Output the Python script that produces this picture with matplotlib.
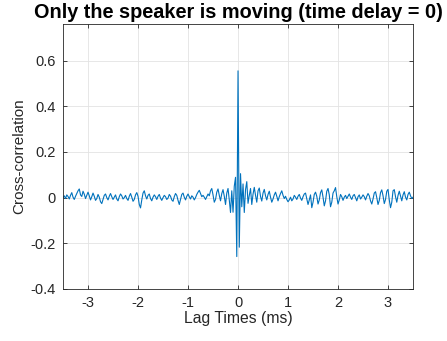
import numpy as np
import matplotlib
matplotlib.use("Agg")
import matplotlib.pyplot as plt

# cross-correlation values, in thousandths
lag_start = -3.5   # ms
lag_step = 0.025   # ms between samples
xcorr_milli = [
    0, 8, -4, 12, 5, -6, 10, 22, 2, -8, 6, 18, 30, 38, 12, 5, 28, 15, -4, 10,
    24, 8, -10, 4, 20, 6, -12, -4, 14, 2, -18, -26, -8, 10, 16, 0, -10, 6, 18, 4,
    -8, 2, 12, -6, -14, 4, 16, 8, -6, 0, 10, -4, -12, 6, 18, 2, -16, -8, 12, 22,
    6, -30, -45, -10, 20, 30, 8, -6, 10, 16, -4, -14, 2, 12, 4, -8, 6, 14, -2, -12,
    0, 10, 4, -8, -2, 14, 6, -10, -16, 4, 18, 10, -12, -30, -8, 14, 20, 2, -10, 6,
    16, 4, -6, 8, 2, -10, 0, 14, 24, 32, 18, 4, 10, 2, -8, 4, 16, 8, 30, 40,
    12, -20, -8, 24, 38, 10, -14, 18, 35, 6, -30, 20, 40, -10, -65, 30, -64, 50, 89, -258,
    555, -217, 105, -40, 60, -65, 35, 70, -25, 10, 40, -30, 15, 45, 10, -20, 30, 42, 5, -15,
    20, 36, 8, -10, 14, 28, 2, -20, -6, 12, 24, 6, -14, 4, 18, 30, 10, -4, 6, -8,
    -18, -10, 2, -14, -6, 10, 2, -8, 6, 14, -2, -12, 4, 16, 20, -6, -30, -10, 12, -44,
    -20, 14, 24, 6, -28, -10, 22, 34, 2, -36, -14, 28, 40, 12, -40, -20, 20, 30, 44, 4,
    -28, -10, 14, 4, -12, 2, 10, -4, 6, 16, 2, -8, 8, 14, 0, -14, 4, 12, -6, 2,
    12, 4, -10, 6, 18, 8, -14, -28, -6, 20, 26, 0, -30, -12, 22, 34, 8, -26, -8, 28,
    36, -10, -44, -20, 30, 35, 4, -20, 10, 28, 6, -14, 12, 26, 2, -10, 14, 24, 8, -4, 2,
]
x_ticks = [-3, -2, -1, 0, 1, 2, 3]
y_ticks = [-0.4, -0.2, 0, 0.2, 0.4, 0.6]
y_tick_labels = ["-0.4", "-0.2", "0", "0.2", "0.4", "0.6"]

plt.rcParams["font.family"] = ["Liberation Sans", "DejaVu Sans"]
plt.rcParams["axes.unicode_minus"] = False

xcorr = np.asarray(xcorr_milli, dtype=float) / 1000.0
lags = lag_start + lag_step * np.arange(len(xcorr))

fig = plt.figure(figsize=(4.47, 3.41), dpi=100)
ax = fig.add_axes([0.141, 0.1525, 0.783, 0.777])
ax.plot(lags, xcorr, color="#0072BD", linewidth=0.8)

ax.set_xlim(-3.5, 3.5)
ax.set_ylim(-0.4, 0.76)
ax.set_xticks(x_ticks)
ax.set_xticklabels([str(t) for t in x_ticks])
ax.set_yticks(y_ticks)
ax.set_yticklabels(y_tick_labels)
ax.tick_params(direction="in", length=3, width=0.6, colors="#262626",
               labelsize=10.5, top=True, right=True, pad=5)
ax.grid(True, color="#e3e3e3", linewidth=0.6)
ax.set_axisbelow(True)
for s in ax.spines.values():
    s.set_color("#262626")
    s.set_linewidth(0.6)

ax.set_title("Only the speaker is moving (time delay = 0)", fontsize=14.3,
             fontweight="bold", pad=4)
ax.set_xlabel("Lag Times (ms)", fontsize=11.3, color="#262626", labelpad=1)
ax.set_ylabel("Cross-correlation", fontsize=11, color="#262626", labelpad=3)

fig.savefig("out.png", dpi=100)
